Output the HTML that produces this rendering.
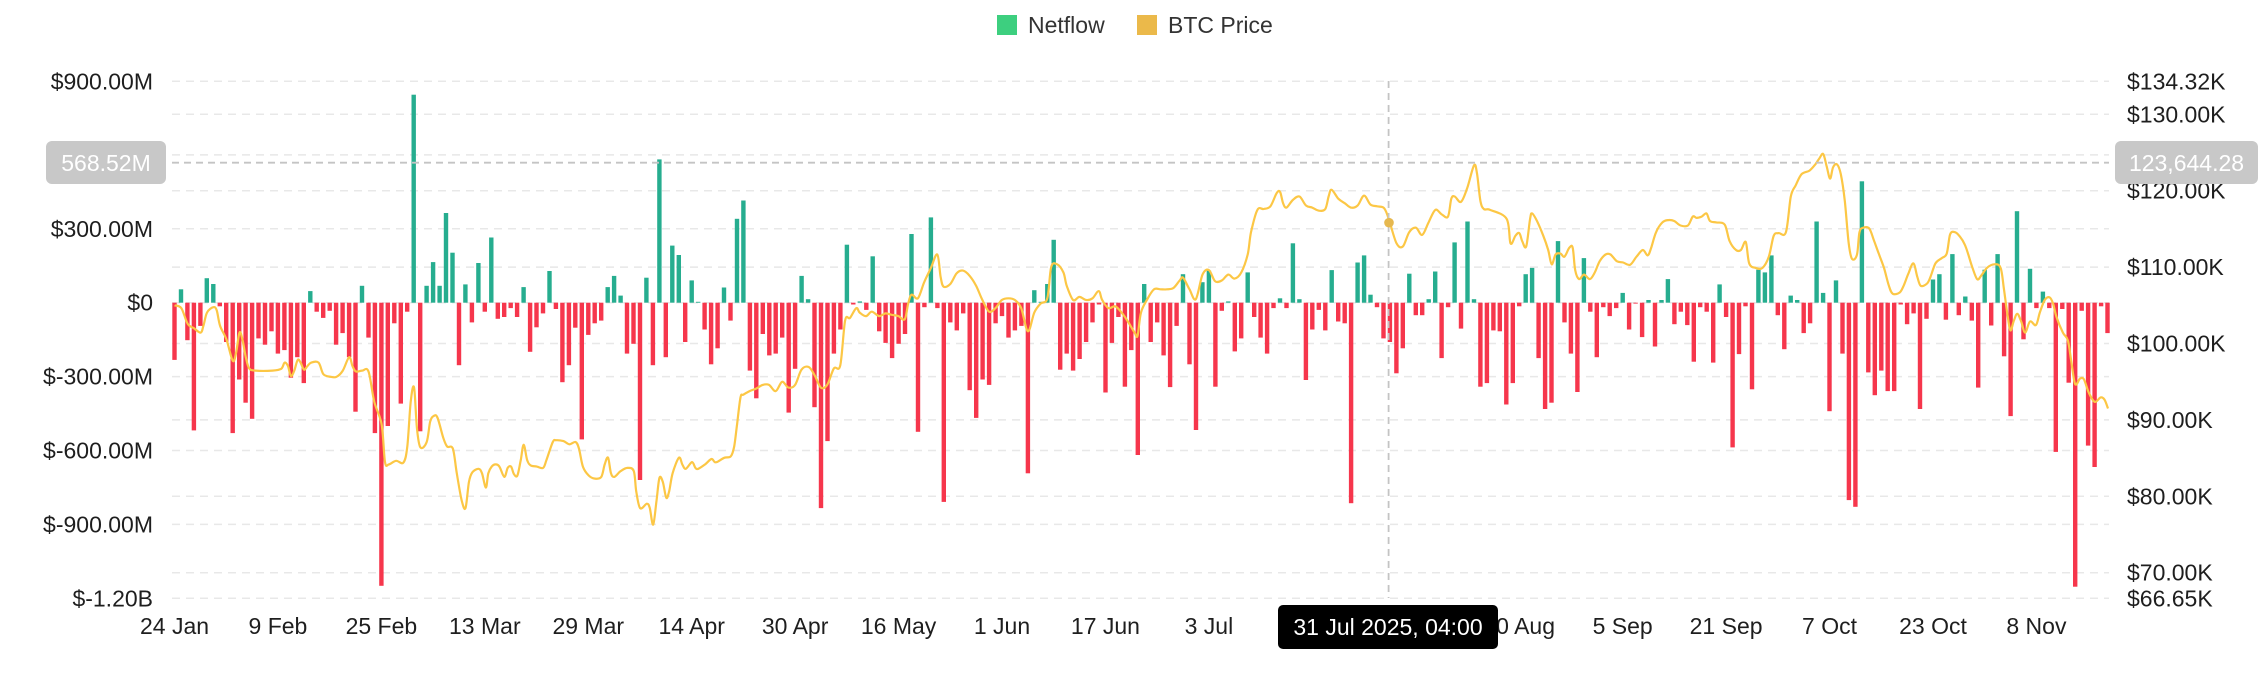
<!DOCTYPE html>
<html><head><meta charset="utf-8">
<style>
html,body{margin:0;padding:0;background:#fff;}
body{width:2268px;height:700px;overflow:hidden;font-family:"Liberation Sans",sans-serif;}
svg{display:block}
</style></head><body>
<svg id="c" width="2268" height="700" xmlns="http://www.w3.org/2000/svg" font-family="Liberation Sans, sans-serif"></svg>
<script>
var S=document.getElementById('c');var NS='http://www.w3.org/2000/svg';
function el(t,a,txt){var e=document.createElementNS(NS,t);for(var k in a)e.setAttribute(k,a[k]);if(txt!=null)e.textContent=txt;S.appendChild(e);return e;}
var X0=172,X1=2109,Z=302.7;
// gridlines
var left=[[81.3,'$900.00M'],[154.9,null],[228.8,'$300.00M'],[302.7,'$0'],[376.6,'$-300.00M'],[450.5,'$-600.00M'],[524.4,'$-900.00M'],[598.3,'$-1.20B']];
var right=[[81.3,'$134.32K'],[114.3,'$130.00K'],[190.7,'$120.00K'],[267.1,'$110.00K'],[343.5,'$100.00K'],[419.9,'$90.00K'],[496.3,'$80.00K'],[572.7,'$70.00K'],[598.3,'$66.65K']];
left.concat(right).forEach(function(g){el('line',{x1:X0,x2:X1,y1:g[0],y2:g[0],stroke:'#e8e8e8','stroke-width':1.5,'stroke-dasharray':'8 6'});});
left.forEach(function(g){if(g[1])el('text',{x:153,y:g[0]+8,'text-anchor':'end','font-size':23,fill:'#1e1e1e'},g[1]);});
right.forEach(function(g){el('text',{x:2127,y:g[0]+8,'font-size':23,fill:'#1e1e1e'},g[1]);});
// bars (zoom y tips)
var b1=[806,648,762,964,730,623,636,686,766,970,850,902,938,758,772,742,792,784,846,800,858,652,698,712,696,772,746,800,922,640,756,970,1312,954,724,904,698,212,966,640,587,640,477,566,818,637,722,589,698,532,714,710,690,710,643,788,733,702,607,692,856,818,734,984,750,724,718,643,618,662,792,770,1075,622,818,357,800,550,571,766,628,676,738,816,780,644,718,490,449];
var b2=[830,892,748,796,792,756,924,826,618,670,912,1138,988,792,738,548,682,675,694,574,742,768,802,770,748,524,967,688,487,690,1124,722,740,702,874,936,850,862,724,708,756,740,730,1060,650,676,636,537,828,792,830,804,766,722,682,879,768,710,866,784,1019,636,766,722,796,867,730,614,816,963,632,606,866,696,675,787,758,610,710,756,792,690,668,690,545,670,851,738,694,740,605,720,724,1127,588,572,660,688,758,766,836,780,613,706,706,670,608,802,688,543,736,496,670,866,858,740,742];
var b3=[906,858,686,614,600,802,916,902,540,722,792,878,578,698,800,688,708,690,656,738,680,755,672,776,672,625,726,698,728,810,688,698,812,637,710,1002,793,686,872,604,610,572,706,782,662,672,746,724,496,656,921,628,792,1120,1135,406,834,885,830,876,876,682,726,702,916,714,626,614,716,569,706,664,718,868,604,729,569,798,932,473,760,602,690,653,690,1012,692,857,1314,696,998,1046,686,746];
var B=b1.concat(b2,b3);
var K=0.4465;
function xc(n){return 174.5+6.465*n;}
B.forEach(function(zy,n){var y=zy*K;var h=Math.abs(y-Z);if(h<0.8)h=0.8;var up=y<Z;
 el('rect',{x:(xc(n)-2.2).toFixed(1),y:(up?Z-h:Z).toFixed(1),width:4.4,height:h.toFixed(1),fill:up?'#26ad8f':'#f6364c'});});
// price line
var p1=[[358,684],[372,690],[385,725],[398,735],[412,745],[418,728],[425,700],[438,688],[445,695],[452,730],[465,760],[478,808],[485,790],[492,745],[498,760],[505,800],[512,825],[525,830],[560,830],[578,826],[585,812],[592,820],[598,842],[605,830],[612,806],[618,812],[625,828],[632,820],[640,812],[655,812],[665,838],[680,844],[692,844],[705,830],[718,800],[725,820],[732,832],[745,830],[758,832],[770,900],[785,950],[792,1035],[800,1040],[815,1032],[830,1036],[838,1000],[845,900],[852,868],[858,960],[865,1002],[878,990],[885,945],[892,932],[900,935],[912,980],[920,1000],[932,1005],[940,1060],[950,1120],[958,1138],[965,1080],[972,1058],[985,1050],[992,1060],[1000,1092],[1005,1060],[1012,1045],[1020,1040],[1028,1045],[1038,1068],[1045,1048],[1052,1045],[1058,1062],[1065,1065],[1072,1030],[1078,996],[1085,1030],[1092,1042],[1105,1045],[1118,1048],[1125,1030],[1138,990],[1145,986],[1160,988],[1172,995],[1185,990],[1192,1005],[1200,1045],[1212,1065],[1225,1072],[1238,1068],[1245,1040],[1252,1025],[1258,1060],[1265,1068],[1278,1055],[1292,1048],[1305,1055],[1310,1100],[1318,1138],[1332,1128],[1338,1138],[1345,1175],[1352,1120],[1358,1070],[1365,1080],[1372,1115],[1378,1100],[1385,1060],[1398,1025],[1405,1040],[1412,1050],[1425,1035],[1432,1048],[1438,1050],[1452,1040],[1465,1028],[1472,1035],[1478,1034],[1492,1025],[1505,1022],[1512,1000],[1518,950],[1525,890]];
var p2=[[5,884],[18,876],[32,870],[45,862],[58,862],[72,876],[85,855],[98,868],[112,862],[125,828],[140,822],[152,840],[165,868],[178,862],[192,825],[205,818],[215,718],[225,712],[238,690],[245,700],[258,708],[270,698],[285,708],[298,702],[311,705],[325,708],[338,715],[345,680],[352,660],[365,668],[378,632],[392,600],[405,570],[412,620],[418,642],[432,636],[445,612],[458,606],[472,618],[485,640],[498,672],[512,698],[525,690],[538,672],[552,668],[565,672],[578,690],[592,742],[605,700],[618,680],[632,668],[640,598],[652,592],[665,610],[672,640],[685,672],[698,665],[712,672],[725,668],[738,652],[745,672],[758,690],[772,686],[785,700],[798,720],[812,745],[818,752],[825,700],[838,670],[852,648],[865,648],[878,648],[892,645],[905,628],[912,622],[925,648],[938,670],[952,615],[965,605],[978,630],[992,628],[1005,615],[1018,624],[1032,610],[1045,570],[1052,520],[1065,470],[1078,468],[1092,462],[1105,432],[1112,430],[1118,455],[1125,465],[1138,448],[1152,440],[1165,460],[1178,465],[1192,472],[1205,468],[1212,440],[1218,425],[1232,445],[1245,455],[1258,465],[1272,460],[1285,438],[1298,458],[1312,462],[1325,465],[1332,478],[1338,498],[1352,545],[1365,552],[1378,520],[1392,510],[1405,526],[1418,498],[1432,470],[1445,480],[1458,485],[1465,445],[1472,440],[1485,452],[1498,420],[1512,370],[1518,390],[1525,450],[1532,468],[1545,470]];
var p3=[[10,490],[18,545],[28,528],[36,522],[42,540],[50,552],[58,490],[62,478],[72,495],[85,528],[95,560],[102,592],[110,570],[120,568],[128,575],[138,555],[145,555],[150,605],[158,625],[168,615],[180,625],[190,610],[200,585],[212,570],[222,570],[235,585],[248,588],[262,593],[275,575],[288,560],[298,572],[305,555],[315,520],[328,498],[340,493],[352,495],[365,505],[380,505],[390,485],[398,488],[408,485],[418,478],[425,495],[438,498],[455,503],[465,540],[478,560],[488,560],[498,542],[505,590],[518,600],[532,600],[545,575],[555,528],[565,522],[580,520],[590,440],[600,415],[612,390],[628,382],[640,368],[648,355],[656,345],[663,372],[670,400],[676,375],[684,368],[692,390],[700,450],[708,545],[715,580],[725,570],[730,520],[738,510],[750,512],[760,540],[770,570],[780,600],[790,640],[798,658],[812,655],[820,640],[830,612],[840,590],[848,620],[855,640],[868,635],[875,620],[885,590],[898,578],[908,568],[915,525],[925,520],[935,530],[945,548],[952,570],[960,598],[970,625],[978,618],[990,600],[1005,592],[1018,600],[1025,650],[1032,705],[1038,740],[1045,718],[1052,703],[1060,720],[1068,745],[1078,720],[1090,728],[1098,700],[1108,672],[1118,666],[1125,680],[1132,710],[1145,745],[1155,762],[1162,808],[1170,860],[1180,848],[1188,850],[1198,880],[1210,900],[1222,890],[1230,895],[1237,915]];
var P=[];
p1.forEach(function(p){P.push([xc((p[0]-358)/13.33),p[1]*K]);});
p2.forEach(function(p){P.push([xc((p[0]+1167.7)/13.33),p[1]*K]);});
p3.forEach(function(p){P.push([xc((p[0]+2707.7)/13.19),p[1]*K]);});
var d='M'+P[0][0].toFixed(1)+' '+P[0][1].toFixed(1);
for(var i=0;i<P.length-1;i++){var p0=P[Math.max(0,i-1)],a=P[i],b=P[i+1],p3_=P[Math.min(P.length-1,i+2)];
 var c1x=a[0]+(b[0]-p0[0])/6,c1y=a[1]+(b[1]-p0[1])/6,c2x=b[0]-(p3_[0]-a[0])/6,c2y=b[1]-(p3_[1]-a[1])/6;
 d+=' C'+c1x.toFixed(1)+' '+c1y.toFixed(1)+' '+c2x.toFixed(1)+' '+c2y.toFixed(1)+' '+b[0].toFixed(1)+' '+b[1].toFixed(1);}
el('path',{d:d,fill:'none',stroke:'#fcc745','stroke-width':2.2,'stroke-linejoin':'round'});
// crosshair
el('line',{x1:X0,x2:X1,y1:162.7,y2:162.7,stroke:'#c4c4c4','stroke-width':1.8,'stroke-dasharray':'7 5'});
el('line',{x1:1388.6,x2:1388.6,y1:81,y2:598,stroke:'#c4c4c4','stroke-width':1.8,'stroke-dasharray':'7 5'});
el('circle',{cx:1389,cy:222.7,r:4.8,fill:'#e6b84f'});
// axis boxes
el('rect',{x:46,y:141,width:120,height:43,rx:6,fill:'#c8c8c8'});
el('text',{x:106,y:171,'text-anchor':'middle','font-size':23,fill:'#fff'},'568.52M');
el('rect',{x:2115,y:141,width:143,height:43,rx:6,fill:'#c8c8c8'});
el('text',{x:2186.5,y:171,'text-anchor':'middle','font-size':23,fill:'#fff'},'123,644.28');
// x labels
var labs=['24 Jan','9 Feb','25 Feb','13 Mar','29 Mar','14 Apr','30 Apr','16 May','1 Jun','17 Jun','3 Jul','19 Jul','4 Aug','20 Aug','5 Sep','21 Sep','7 Oct','23 Oct','8 Nov'];
labs.forEach(function(t,i){el('text',{x:xc(16*i),y:634,'text-anchor':'middle','font-size':23,fill:'#1e1e1e'},t);});
// tooltip
el('rect',{x:1278,y:605,width:220,height:44,rx:5,fill:'#000'});
el('text',{x:1388,y:635,'text-anchor':'middle','font-size':23,fill:'#fff'},'31 Jul 2025, 04:00');
// legend
el('rect',{x:997,y:15,width:20,height:20,fill:'#3dcf7f'});
el('text',{x:1028,y:33,'font-size':23,fill:'#333'},'Netflow');
el('rect',{x:1137,y:15,width:20,height:20,fill:'#ebb94a'});
el('text',{x:1168,y:33,'font-size':23,fill:'#333'},'BTC Price');
</script>
</body></html>
